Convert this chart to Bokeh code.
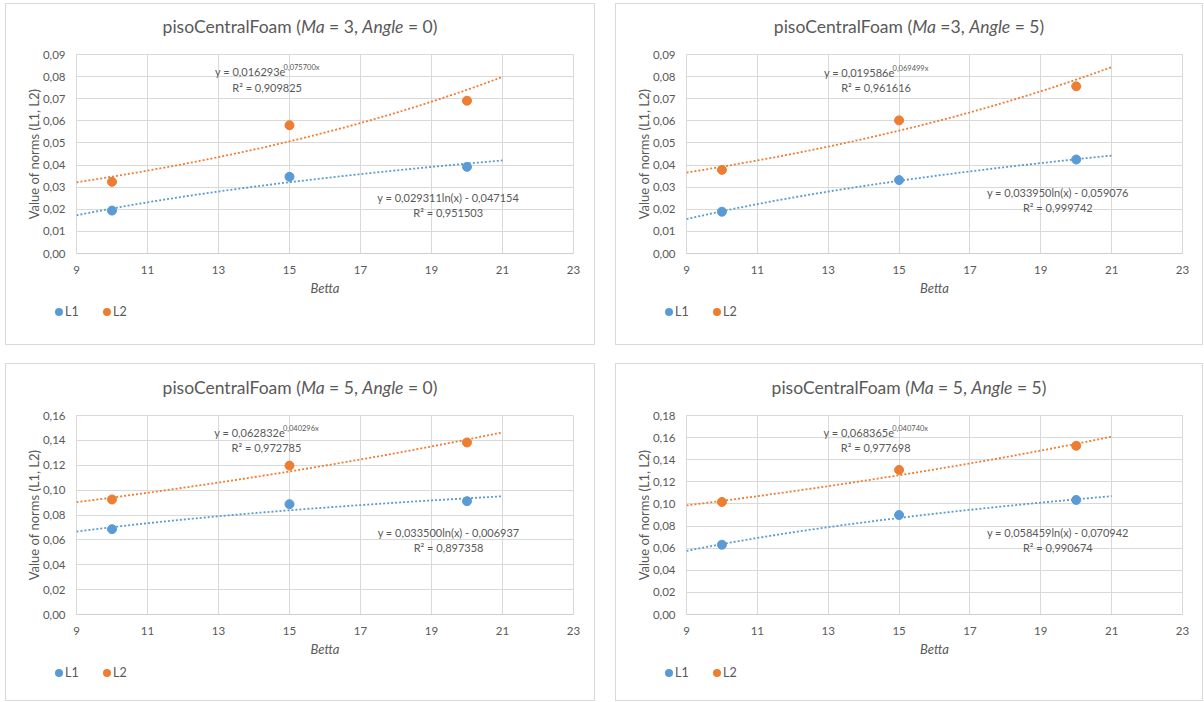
import numpy as np
from bokeh.plotting import figure
from bokeh.models import (Range1d, FixedTicker, CustomJSTickFormatter, Label,
                          Spacer, Div)
from bokeh.layouts import column, row
from bokeh.embed import file_html
from bokeh.resources import INLINE

# ---------------- data ----------------
betta = [10, 15, 20]

L1_values = [
    [0.0194, 0.0347, 0.0392],   # Ma=3, Angle=0
    [0.0189, 0.0332, 0.0425],   # Ma=3, Angle=5
    [0.0686, 0.0887, 0.0911],   # Ma=5, Angle=0
    [0.0631, 0.0900, 0.1036],   # Ma=5, Angle=5
]
L2_values = [
    [0.0324, 0.0580, 0.0691],
    [0.0378, 0.0602, 0.0756],
    [0.0925, 0.1197, 0.1383],
    [0.1018, 0.1308, 0.1526],
]

# trendline coefficients
L1_log_a = [0.029311, 0.033950, 0.033500, 0.058459]
L1_log_b = [-0.047154, -0.059076, -0.006937, -0.070942]
L1_r2 = ["0,951503", "0,999742", "0,897358", "0,990674"]
L2_exp_c = [0.016293, 0.019586, 0.062832, 0.068365]
L2_exp_k = [0.075700, 0.069499, 0.040296, 0.040740]
L2_r2 = ["0,909825", "0,961616", "0,972785", "0,977698"]

titles = [
    "pisoCentralFoam (<i>Ma</i> = 3, <i>Angle</i> = 0)",
    "pisoCentralFoam (<i>Ma</i> =3, <i>Angle</i> = 5)",
    "pisoCentralFoam (<i>Ma</i> = 5, <i>Angle</i> = 0)",
    "pisoCentralFoam (<i>Ma</i> = 5, <i>Angle</i> = 5)",
]
series_names = ["L1", "L2"]

x_ticks = [9, 11, 13, 15, 17, 19, 21, 23]
y_ticks = [
    [0.00, 0.01, 0.02, 0.03, 0.04, 0.05, 0.06, 0.07, 0.08, 0.09],
    [0.00, 0.01, 0.02, 0.03, 0.04, 0.05, 0.06, 0.07, 0.08, 0.09],
    [0.00, 0.02, 0.04, 0.06, 0.08, 0.10, 0.12, 0.14, 0.16],
    [0.00, 0.02, 0.04, 0.06, 0.08, 0.10, 0.12, 0.14, 0.16, 0.18],
]

# annotation anchor positions (data coords)
eq2_x = [14.37, 14.35, 14.35, 14.34]
eq2_y = [0.0823, 0.0820, 0.1461, 0.1646]
r2b_y = [0.0749, 0.0751, 0.1340, 0.1510]
eq1_x = [19.47, 19.48, 19.48, 19.48]
eq1_y = [0.0253, 0.0276, 0.0657, 0.0740]
r2a_y = [0.0185, 0.0209, 0.0536, 0.0604]

trend_end = 21.0

# ---------------- style ----------------
FONT = "Lato"
GRAY = "#595959"
GRID = "#d9d9d9"
BLUE = "#5B9BD5"
ORANGE = "#ED7D31"
COLORS = [BLUE, ORANGE]

W = {'0': .58, '1': .58, '2': .58, '3': .58, '4': .58, '5': .58, '6': .58,
     '7': .58, '8': .58, '9': .58, ',': .21, '.': .21, ' ': .193, '=': .58,
     '-': .37, '(': .30, ')': .30, 'y': .48, 'x': .48, 'e': .52, 'l': .235,
     'n': .565, 'R': .62, '²': .38}


def tw(s, size):
    return sum(W.get(ch, .55) for ch in s) * size


def lab(p, x, y, text, size, italic=False, align="left", xoff=0, yoff=0):
    p.add_layout(Label(x=x, y=y, text=text, x_offset=xoff, y_offset=yoff,
                       text_font=FONT, text_font_size=f"{size}px",
                       text_font_style="italic" if italic else "normal",
                       text_color=GRAY, text_align=align,
                       text_baseline="middle"))


def fmt(v):
    return f"{abs(v):.6f}".replace(".", ",")


def make_panel(i, width, height, bl, bt, frame_w, frame_h, title_h, leg_h):
    ymax = y_ticks[i][-1]

    # ---- title (HTML so that parts can be italic) ----
    title = Div(text=(f'<div style="position:absolute; left:0; top:{bt - 27 - 11}px; '
                      f'width:{width}px; text-align:center; line-height:22px; '
                      f'font-family:{FONT}; font-size:17.5px; color:{GRAY}; '
                      f'white-space:nowrap">{titles[i]}</div>'),
                width=width, height=title_h, margin=(0, 0, 0, 0),
                styles={"position": "relative", "overflow": "visible",
                        "background": "white"})

    # ---- chart ----
    mh = height - title_h - leg_h
    top = bt - title_h
    p = figure(width=width, height=mh, output_backend="svg",
               toolbar_location=None, x_range=Range1d(9, 23),
               y_range=Range1d(0, ymax), min_border_left=bl,
               min_border_right=width - bl - frame_w, min_border_top=top,
               min_border_bottom=mh - top - frame_h, margin=(0, 0, 0, 0))
    p.background_fill_color = "white"
    p.border_fill_color = "white"
    p.outline_line_color = GRID

    p.xaxis.ticker = FixedTicker(ticks=x_ticks)
    p.yaxis.ticker = FixedTicker(ticks=y_ticks[i])
    p.xgrid.ticker = FixedTicker(ticks=x_ticks)
    p.ygrid.ticker = FixedTicker(ticks=y_ticks[i])
    p.yaxis.formatter = CustomJSTickFormatter(
        code="return tick.toFixed(2).replace('.', ',');")
    for g in (p.xgrid, p.ygrid):
        g.grid_line_color = GRID
        g.grid_line_width = 1
    for ax in (p.xaxis, p.yaxis):
        ax.major_tick_line_color = None
        ax.minor_tick_line_color = None
        ax.major_label_text_font = FONT
        ax.major_label_text_font_size = "11.5px"
        ax.major_label_text_color = GRAY
        ax.axis_label_text_font = FONT
        ax.axis_label_text_font_size = "13px"
        ax.axis_label_text_color = GRAY
    p.xaxis.axis_line_color = "#cfcfcf"
    p.yaxis.axis_line_color = None
    p.xaxis.major_label_standoff = 6
    p.yaxis.major_label_standoff = 5
    p.xaxis.axis_label = "Betta"
    p.xaxis.axis_label_text_font_style = "italic"
    p.xaxis.axis_label_standoff = 3
    p.yaxis.axis_label = "Value of norms (L1, L2)"
    p.yaxis.axis_label_text_font_style = "normal"
    p.yaxis.axis_label_standoff = -2

    xs = np.linspace(9, trend_end, 200)
    p.line(xs, L1_log_a[i] * np.log(xs) + L1_log_b[i], line_color=BLUE,
           line_width=1.8, line_dash="2 2")
    p.line(xs, L2_exp_c[i] * np.exp(L2_exp_k[i] * xs), line_color=ORANGE,
           line_width=1.8, line_dash="2 2")
    p.scatter(betta, L1_values[i], size=9, fill_color=BLUE, line_color=BLUE)
    p.scatter(betta, L2_values[i], size=9, fill_color=ORANGE,
              line_color=ORANGE)

    # L2 exponential trend equation
    esize, ssize = 11, 7.5
    main = "y = " + fmt(L2_exp_c[i]) + "e"
    sup = fmt(L2_exp_k[i]) + "x"
    wm, ws = tw(main, esize), tw(sup, ssize)
    lab(p, eq2_x[i], eq2_y[i], main, esize, xoff=-(wm + ws) / 2)
    lab(p, eq2_x[i], eq2_y[i], sup, ssize, xoff=-(wm + ws) / 2 + wm, yoff=4)
    lab(p, eq2_x[i], r2b_y[i], "R² = " + L2_r2[i], esize, align="center")

    # L1 logarithmic trend equation
    sign = "-" if L1_log_b[i] < 0 else "+"
    eq1 = f"y = {fmt(L1_log_a[i])}ln(x) {sign} {fmt(L1_log_b[i])}"
    lab(p, eq1_x[i], eq1_y[i], eq1, esize, align="center")
    lab(p, eq1_x[i], r2a_y[i], "R² = " + L1_r2[i], esize, align="center")

    # ---- legend (HTML strip under the chart) ----
    cy = bt + frame_h + 59 - title_h - mh   # legend centre inside strip
    items = ""
    for k, (name, col) in enumerate(zip(series_names, COLORS)):
        mx = 53 + 48 * k
        items += (f'<span style="position:absolute; left:{mx - 4}px; '
                  f'top:{cy - 4}px; width:8px; height:8px; border-radius:50%; '
                  f'background:{col}"></span>'
                  f'<span style="position:absolute; left:{mx + 6}px; '
                  f'top:{cy - 8}px; line-height:16px; font-family:{FONT}; '
                  f'font-size:12.5px; color:{GRAY}">{name}</span>')
    legend = Div(text=items, width=width, height=leg_h, margin=(0, 0, 0, 0),
                 styles={"position": "relative", "background": "white"})

    box = column(title, p, legend, spacing=0)
    box.styles = {"outline": "1px solid #d9d9d9", "background": "white"}
    return box


p1 = make_panel(0, 588, 340, 70, 50, 497, 199, 38, 43)
p2 = make_panel(1, 586, 340, 70, 50, 496, 199, 38, 43)
p3 = make_panel(2, 588, 336, 70, 51, 497, 199, 38, 38)
p4 = make_panel(3, 586, 336, 70, 51, 496, 199, 38, 38)

grid = column(row(p1, p2, spacing=22), row(p3, p4, spacing=22), spacing=20)
layout = row(Spacer(width=6), column(Spacer(height=4), grid, spacing=0),
             spacing=0)

open("out.html", "w").write(file_html(layout, INLINE))
